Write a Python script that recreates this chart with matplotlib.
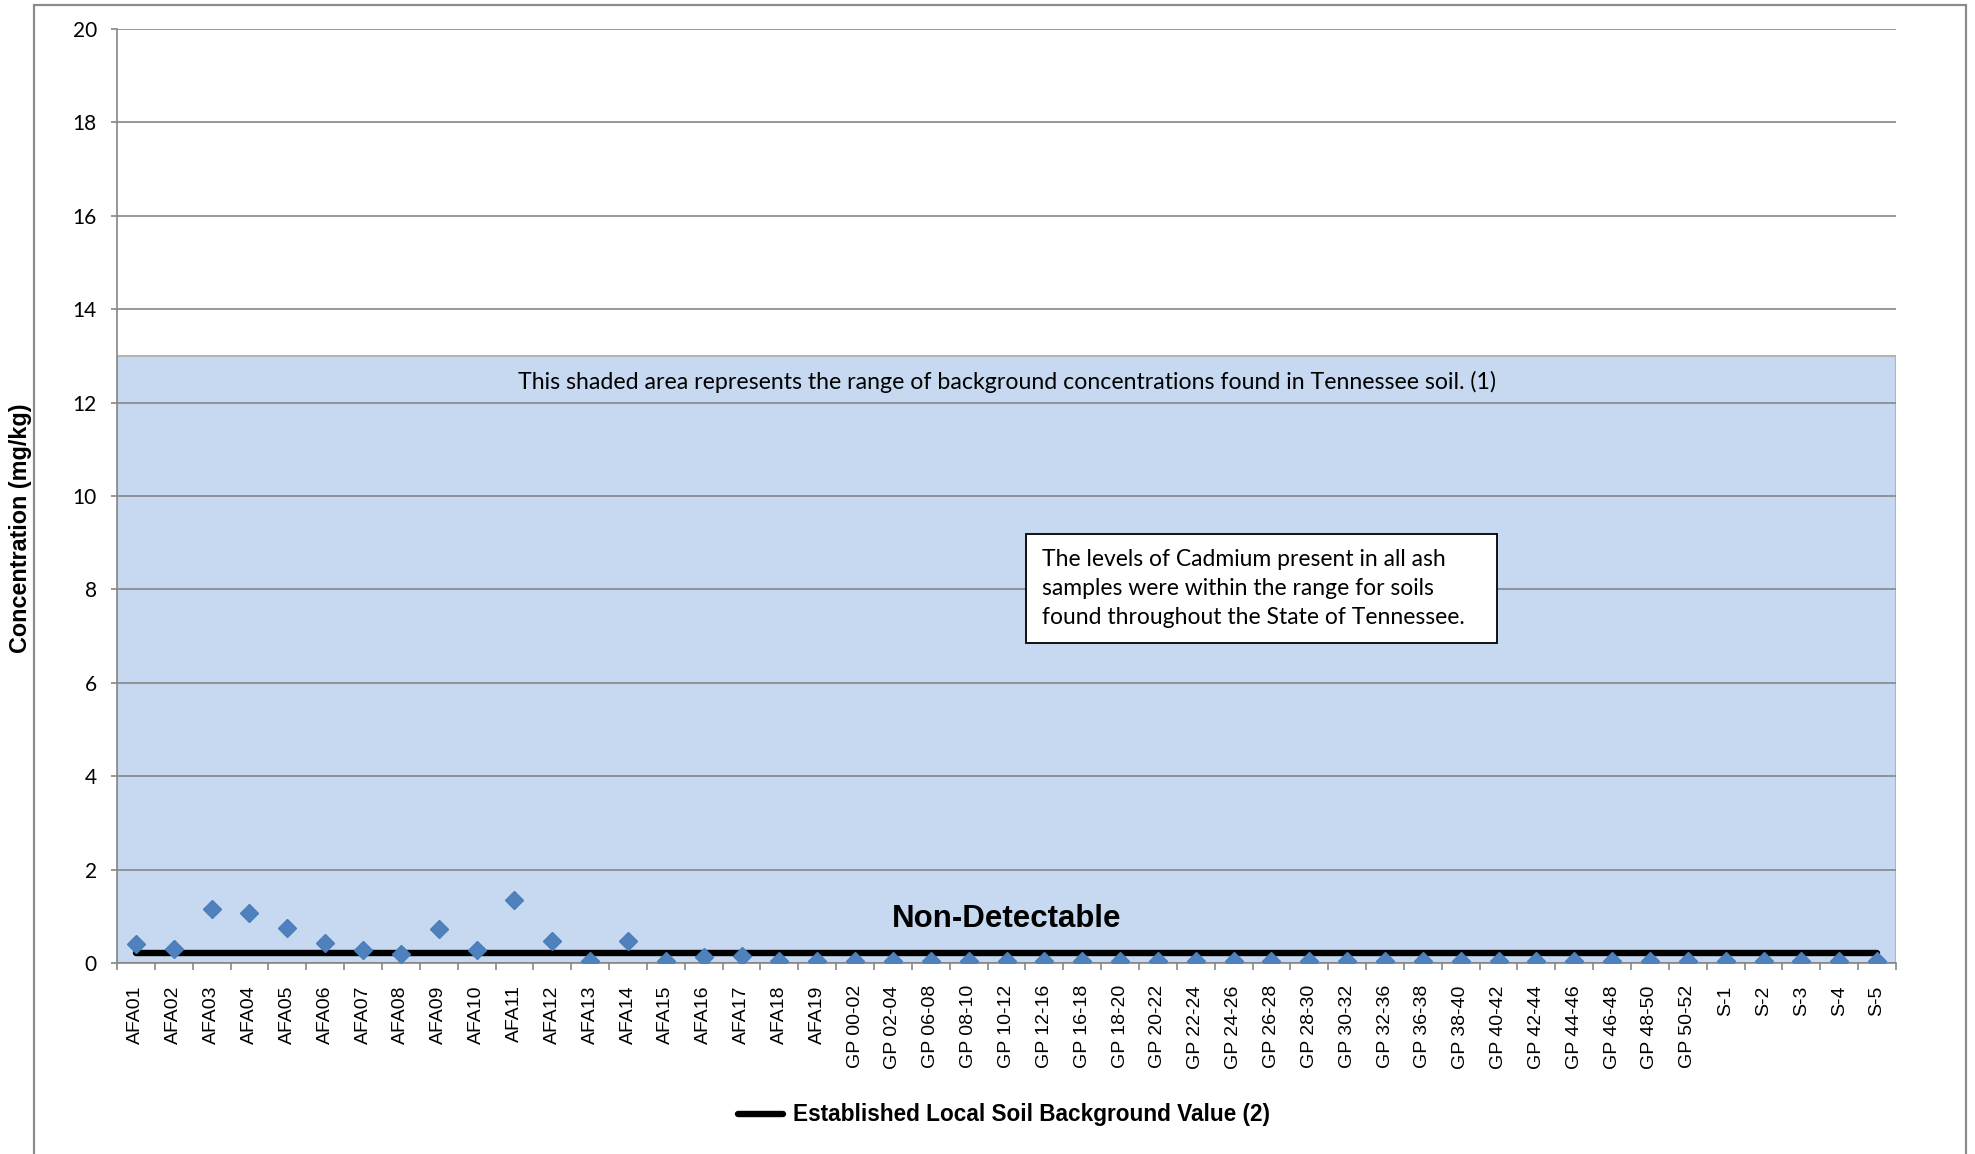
import numpy as np
import matplotlib
matplotlib.use('Agg')
import matplotlib.pyplot as plt
from matplotlib.patches import Rectangle

# sample ids along the x axis
afa_ids = ['AFA%02d' % i for i in range(1, 20)]
gp_ids = ['GP 00-02', 'GP 02-04', 'GP 06-08', 'GP 08-10', 'GP 10-12', 'GP 12-16',
          'GP 16-18', 'GP 18-20', 'GP 20-22', 'GP 22-24', 'GP 24-26', 'GP 26-28',
          'GP 28-30', 'GP 30-32', 'GP 32-36', 'GP 36-38', 'GP 38-40', 'GP 40-42',
          'GP 42-44', 'GP 44-46', 'GP 46-48', 'GP 48-50', 'GP 50-52']
s_ids = ['S-1', 'S-2', 'S-3', 'S-4', 'S-5']
samples = afa_ids + gp_ids + s_ids

# cadmium concentration (mg/kg)
afa_values = [0.40, 0.31, 1.15, 1.08, 0.75, 0.42, 0.27, 0.20, 0.73, 0.27,
              1.35, 0.47, 0.04, 0.47, 0.04, 0.12, 0.15, 0.04, 0.04]
gp_values = [0.04] * 23
s_values = [0.04] * 5
values = afa_values + gp_values + s_values

background_value = 0.21   # established local soil background
tn_range = (0, 13)        # Tennessee soil range

yticks = list(range(0, 21, 2))

GRAY = '#868686'

fig = plt.figure(figsize=(19.75, 11.54), dpi=100)
ax = fig.add_axes([117/1975, 1 - 963/1154, (1896 - 117)/1975, (963 - 29)/1154])

n = len(samples)
x = np.arange(n)
ax.set_xlim(-0.5, n - 0.5)
ax.set_ylim(0, 20)

ax.axhspan(tn_range[0], tn_range[1], facecolor='#C6D9F1', edgecolor='#b3b3b3',
           lw=1.5, zorder=0.5)
ax.set_axisbelow(False)
ax.yaxis.grid(True, color=GRAY, lw=1.2)

line, = ax.plot(x, [background_value] * n, color='black', lw=4.6,
                solid_capstyle='round', zorder=3,
                label='Established Local Soil Background Value (2)')
ax.plot(x, values, 'D', ls='none', color='#4F81BD', mec='#4A7EBB', ms=8.8, mew=1,
        zorder=4)

for side in ['top', 'right']:
    ax.spines[side].set_visible(False)
for side in ['left', 'bottom']:
    ax.spines[side].set_color(GRAY)
    ax.spines[side].set_linewidth(1.2)

ax.set_yticks(yticks, labels=[str(v) for v in yticks], fontfamily='Lato', fontsize=15)
ax.tick_params(axis='y', length=4.5, width=1.2, color=GRAY, pad=10)

ax.set_xticks(x, labels=samples, rotation=90, fontfamily='Liberation Sans', fontsize=14)
ax.tick_params(axis='x', which='major', length=0, pad=16)
ax.set_xticks(np.arange(-0.5, n), minor=True)
ax.tick_params(axis='x', which='minor', length=5, width=1.2, color=GRAY, direction='out')

ax.text(0.5, 12.45, 'This shaded area represents the range of background concentrations found in Tennessee soil. (1)',
        transform=ax.get_yaxis_transform(), ha='center', va='center',
        fontfamily='Lato', fontsize=16.7, zorder=5)

ax.text(0.5, 0.95, 'Non-Detectable', transform=ax.get_yaxis_transform(),
        ha='center', va='center', fontfamily='Liberation Sans', fontweight='bold',
        fontsize=22.5, zorder=5)

box = Rectangle((0.511, 0.3426), 0.7757 - 0.511, 0.4593 - 0.3426, transform=ax.transAxes,
                facecolor='white', edgecolor='black', lw=1.3, zorder=6)
ax.add_patch(box)
ax.text(0.52, 0.401, 'The levels of Cadmium present in all ash\nsamples were within the range for soils\nfound throughout the State of Tennessee.',
        transform=ax.transAxes, ha='left', va='center', fontfamily='Lato',
        fontsize=16.5, linespacing=1.45, zorder=7)

fig.text(21/1975, 1 - 528/1154, 'Concentration (mg/kg)', rotation=90, ha='center',
         va='center', fontfamily='Liberation Sans', fontweight='bold', fontsize=16.8)

fig.legend(handles=[line], loc='center', bbox_to_anchor=(1004/1975, 1 - 1115/1154),
           frameon=False, handlelength=2.0, handletextpad=0.45,
           prop={'family': 'Liberation Sans', 'weight': 'bold', 'size': 16.3})

fig.patches.append(Rectangle((34/1975, -0.05), (1966 - 34)/1975, 1.05 - 5/1154,
                             transform=fig.transFigure, fill=False,
                             edgecolor='#8c8c8c', lw=1.6))

fig.savefig('out.png', dpi=100)
